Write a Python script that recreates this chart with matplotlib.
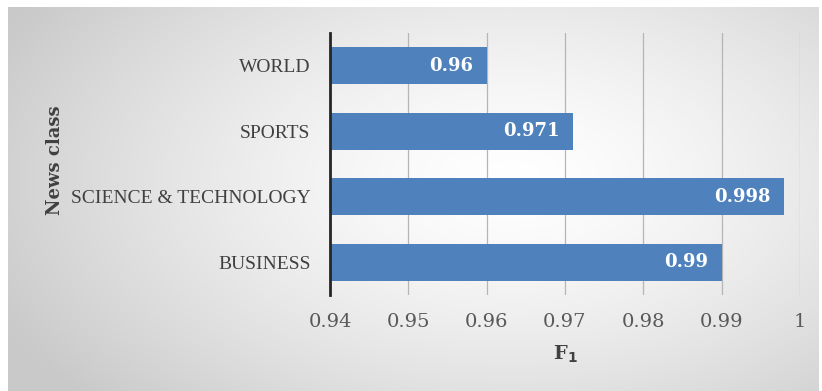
import matplotlib
matplotlib.use("Agg")

import matplotlib.pyplot as plt
import numpy as np

categories = ["BUSINESS", "SCIENCE & TECHNOLOGY", "SPORTS", "WORLD"]
f1_scores = [0.99, 0.998, 0.971, 0.96]
x_ticks = [0.94, 0.95, 0.96, 0.97, 0.98, 0.99, 1.0]
x_tick_labels = ["0.94", "0.95", "0.96", "0.97", "0.98", "0.99", "1"]

BAR_COLOR = "#4F81BD"
TEXT_COLOR = "#595959"

plt.rcParams["font.family"] = ["DejaVu Serif"]

fig = plt.figure(figsize=(8.22, 3.91), dpi=100)
fig.patch.set_facecolor("white")

# soft grey panel behind the chart, light in the middle, darker at the edges
bg = fig.add_axes([8 / 822, 0, 810 / 822, 384 / 391], zorder=0)
gx, gy = np.meshgrid(np.linspace(0, 1, 400), np.linspace(0, 1, 200))
r = np.sqrt(((gx - 0.62) / 0.7) ** 2 + ((gy - 0.45) / 0.85) ** 2)
shade = 1.0 - 0.21 * np.clip(r, 0, 1.0) ** 1.4
bg.imshow(np.dstack([shade] * 3), extent=[0, 1, 0, 1], aspect="auto",
          interpolation="bicubic", vmin=0, vmax=1)
bg.set_axis_off()

ax = fig.add_axes([330 / 822, 1 - 295 / 391, 470 / 822, 262 / 391], zorder=1)
ax.patch.set_alpha(0)

y = np.arange(len(categories))
bars = ax.barh(y, np.array(f1_scores) - x_ticks[0], left=x_ticks[0], height=0.57,
               color=BAR_COLOR, zorder=3)

for bar, val in zip(bars, f1_scores):
    ax.text(val - 0.0017, bar.get_y() + bar.get_height() / 2, f"{val:g}",
            ha="right", va="center", color="white", fontweight="bold",
            fontsize=13, zorder=4)

ax.set_xlim(0.94, 1.0)
ax.set_ylim(-0.5, len(categories) - 0.5)
ax.set_xticks(x_ticks)
ax.set_xticklabels(x_tick_labels)
ax.set_yticks(y)
ax.set_yticklabels(categories, family="Liberation Serif", fontsize=14)
ax.tick_params(axis="both", length=0, colors=TEXT_COLOR)
ax.tick_params(axis="x", pad=13, labelsize=14)
ax.tick_params(axis="y", pad=14, labelcolor="#404040")

ax.grid(axis="x", color="#b5b5b5", linewidth=0.9, zorder=1)
ax.set_axisbelow(True)
for side in ["top", "right", "bottom"]:
    ax.spines[side].set_visible(False)
ax.spines["left"].set_color("#262626")
ax.spines["left"].set_linewidth(2)
ax.spines["left"].set_zorder(5)

ax.set_xlabel("F$_\\mathbf{1}$", fontsize=14, fontweight="bold", color="#404040",
              labelpad=9)
fig.text(55 / 822, 1 - 160 / 391, "News class", rotation=90, ha="center",
         va="center", fontsize=13, fontweight="bold", color="#404040")

fig.savefig("out.png", dpi=100)
